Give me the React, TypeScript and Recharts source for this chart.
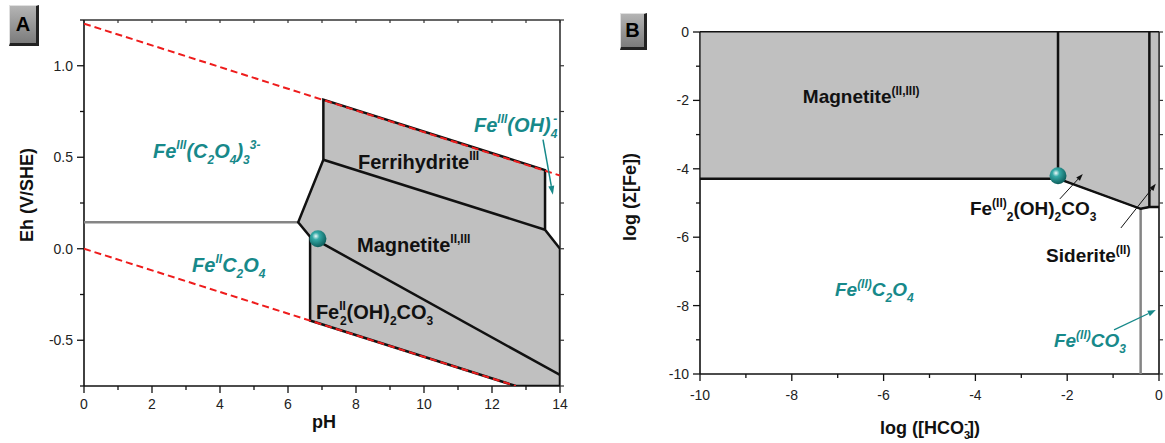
import React from "react";
import { ComposedChart, XAxis, YAxis, Scatter } from "recharts";

const FONT = '"Liberation Sans", Arial, Helvetica, sans-serif';
const TEAL = "#17898a";
const GREY_FILL = "#c0c0c0";
const INK = "#111";
const RED = "#ee1c1c";

type Seg = [string, "n" | "sup" | "sub", number?];

// ---------- panel A : Eh vs pH ----------
const phTicks = [0, 1, 2, 3, 4, 5, 6, 7, 8, 9, 10, 11, 12, 13, 14];
const phLabelled = [0, 2, 4, 6, 8, 10, 12, 14];
const ehTicks = [-0.75, -0.5, -0.25, 0, 0.25, 0.5, 0.75, 1, 1.25];
const ehLabelled = [-0.5, 0, 0.5, 1];

const waterUpper = [{ x: 0, y: 1.23 }, { x: 14, y: 0.4 }];
const waterLower = [{ x: 0, y: 0 }, { x: 12.7, y: -0.75 }];
const solidFieldA = [
  { x: 7.04, y: 0.815 },
  { x: 13.56, y: 0.43 },
  { x: 13.56, y: 0.104 },
  { x: 14, y: 0.0 },
  { x: 14, y: -0.75 },
  { x: 12.7, y: -0.75 },
  { x: 6.65, y: -0.392 },
  { x: 6.65, y: 0.066 },
  { x: 6.3, y: 0.145 },
  { x: 7.04, y: 0.486 },
];
const ferrihydriteEdge = [{ x: 7.04, y: 0.486 }, { x: 13.56, y: 0.104 }];
const carbonateEdgeA = [{ x: 6.65, y: 0.066 }, { x: 14, y: -0.69 }];
const oxalateEdge = [{ x: 0, y: 0.145 }, { x: 6.3, y: 0.145 }];
const pointA = [{ x: 6.88, y: 0.055 }];
const arrowA = [{ x: 13.5, y: 0.596 }, { x: 13.79, y: 0.295 }];

const labelsA = [
  { x: 2.03, y: 0.497, kind: "aq", segs: [["Fe", "n"], ["III", "sup"], ["(C", "n"], ["2", "sub"], ["O", "n"], ["4", "sub"], [")", "n"], ["3", "sub"], ["3-", "sup"]] },
  { x: 3.18, y: -0.126, kind: "aq", segs: [["Fe", "n"], ["II", "sup"], ["C", "n"], ["2", "sub"], ["O", "n"], ["4", "sub"]] },
  { x: 11.47, y: 0.639, kind: "aq", segs: [["Fe", "n"], ["III", "sup"], ["(OH)", "n"], ["4", "sub"], ["-", "sup", -4]] },
  { x: 8.06, y: 0.437, kind: "solid", segs: [["Ferrihydrite", "n"], ["III", "sup"]] },
  { x: 8.03, y: -0.016, kind: "solid", segs: [["Magnetite", "n"], ["II,III", "sup"]] },
  { x: 6.82, y: -0.383, kind: "solid", segs: [["Fe", "n"], ["II", "sup"], ["2", "sub", -6], ["(OH)", "n"], ["2", "sub"], ["CO", "n"], ["3", "sub"]] },
];

// ---------- panel B : log Σ[Fe] vs log [HCO3-] ----------
const hco3Ticks = [-10, -9, -8, -7, -6, -5, -4, -3, -2, -1, 0];
const hco3Labelled = [-10, -8, -6, -4, -2, 0];
const feTicks = [-10, -9, -8, -7, -6, -5, -4, -3, -2, -1, 0];
const feLabelled = [-10, -8, -6, -4, -2, 0];

const solidFieldB = [
  { x: -10, y: 0 },
  { x: 0, y: 0 },
  { x: 0, y: -5.12 },
  { x: -0.21, y: -5.12 },
  { x: -0.4, y: -5.17 },
  { x: -2.2, y: -4.29 },
  { x: -10, y: -4.29 },
];
const magnetiteEdge = [{ x: -10, y: -4.29 }, { x: -2.2, y: -4.29 }];
const hydroxyEdge = [{ x: -2.2, y: 0 }, { x: -2.2, y: -4.29 }, { x: -0.4, y: -5.17 }, { x: -0.21, y: -5.12 }, { x: 0, y: -5.12 }];
const sideriteEdge = [{ x: -0.21, y: 0 }, { x: -0.21, y: -5.12 }];
const carbonateLimit = [{ x: -0.4, y: -5.17 }, { x: -0.4, y: -10 }];
const pointB = [{ x: -2.2, y: -4.2 }];
const arrowB1 = [{ x: -2.16, y: -4.88 }, { x: -1.66, y: -4.15 }];
const arrowB2 = [{ x: -0.83, y: -5.73 }, { x: -0.07, y: -4.44 }];
const arrowB3 = [{ x: -0.98, y: -8.71 }, { x: -0.07, y: -8.13 }];

const labelsB = [
  { x: -7.76, y: -2.07, kind: "solid", segs: [["Magnetite", "n"], ["(II,III)", "sup"]] },
  { x: -4.12, y: -5.35, kind: "solid", segs: [["Fe", "n"], ["(II)", "sup"], ["2", "sub"], ["(OH)", "n"], ["2", "sub"], ["CO", "n"], ["3", "sub"]] },
  { x: -2.46, y: -6.72, kind: "solid", segs: [["Siderite", "n"], ["(II)", "sup"]] },
  { x: -7.06, y: -7.72, kind: "aq", segs: [["Fe", "n"], ["(II)", "sup"], ["C", "n"], ["2", "sub"], ["O", "n"], ["4", "sub"]] },
  { x: -2.29, y: -9.21, kind: "aq", segs: [["Fe", "n"], ["(II)", "sup"], ["CO", "n"], ["3", "sub"]] },
];

// ---------- drawing helpers ----------
const toPath = (pts: { x: number; y: number }[], close = false) =>
  pts.map((p, i) => `${i ? "L" : "M"}${p.x},${p.y}`).join(" ") + (close ? " Z" : "");

const noDot = () => <g />;

const strokeLine = (color: string, width: number, dash?: string) => (p: any) =>
  <path d={toPath(p.points)} fill="none" stroke={color} strokeWidth={width} strokeDasharray={dash} />;

const fillPoly = (fill: string) => (p: any) => <path d={toPath(p.points, true)} fill={fill} stroke="none" />;

const outlinePoly = (color: string, width: number) => (p: any) =>
  <path d={toPath(p.points, true)} fill="none" stroke={color} strokeWidth={width} />;

const arrowLine = (color: string, width: number, len: number, half: number) => (p: any) => {
  const a = p.points[0];
  const b = p.points[p.points.length - 1];
  const ang = Math.atan2(b.y - a.y, b.x - a.x);
  const c = Math.cos(ang), s = Math.sin(ang);
  const bx = b.x - len * c, by = b.y - len * s;
  return (
    <g>
      <path d={`M${a.x},${a.y} L${bx},${by}`} stroke={color} strokeWidth={width} fill="none" />
      <path d={`M${b.x},${b.y} L${bx + half * s},${by - half * c} L${bx - half * s},${by + half * c} Z`} fill={color} />
    </g>
  );
};

const ball = (id: string) => (p: any) => (
  <g>
    <defs>
      <radialGradient id={id} cx="38%" cy="35%" r="70%">
        <stop offset="0" stopColor="#eefafa" />
        <stop offset="0.3" stopColor="#35aaa7" />
        <stop offset="1" stopColor="#0a5856" />
      </radialGradient>
    </defs>
    <circle cx={p.cx} cy={p.cy} r={8.5} fill={`url(#${id})`} />
  </g>
);

function Rich({ x, y, segs, size, color, italic }: any) {
  let cur = 0;
  const small = Math.round(size * 0.62);
  return (
    <text x={x} y={y} fontFamily={FONT} fontWeight="bold" fontStyle={italic ? "italic" : "normal"} fill={color} fontSize={size}>
      {segs.map((sg: Seg, i: number) => {
        const [t, k, dx] = sg;
        const target = k === "sup" ? -size * 0.42 : k === "sub" ? size * 0.3 : 0;
        const dy = target - cur;
        cur = target;
        return (
          <tspan key={i} dy={dy} dx={dx || 0} fontSize={k === "n" ? size : small}>
            {t}
          </tspan>
        );
      })}
    </text>
  );
}

const labelShape = (size: number) => (p: any) => {
  const d = p.payload;
  const aq = d.kind === "aq";
  return <Rich x={p.cx} y={p.cy} segs={d.segs} size={size} color={aq ? TEAL : INK} italic={aq} />;
};

const near = (list: number[], v: number) => list.some((t) => Math.abs(t - v) < 1e-9);

const bottomTick = (labelled: number[], fmt: (v: number) => string, gap: number) => (p: any) => {
  const v = p.payload.value;
  const major = near(labelled, v);
  return (
    <g>
      <line x1={p.x} x2={p.x} y1={p.y} y2={p.y + (major ? 7 : 4)} stroke={INK} strokeWidth={1.3} />
      {major && (
        <text x={p.x} y={p.y + gap} textAnchor="middle" fontSize={14} fontFamily={FONT} fill="#222">
          {fmt(v)}
        </text>
      )}
    </g>
  );
};

const leftTick = (labelled: number[], fmt: (v: number) => string) => (p: any) => {
  const v = p.payload.value;
  const major = near(labelled, v);
  return (
    <g>
      <line x1={p.x - (major ? 7 : 4)} x2={p.x} y1={p.y} y2={p.y} stroke={INK} strokeWidth={1.3} />
      {major && (
        <text x={p.x - 11} y={p.y} dy="0.36em" textAnchor="end" fontSize={14} fontFamily={FONT} fill="#222">
          {fmt(v)}
        </text>
      )}
    </g>
  );
};

const rightTick = (len: number) => (p: any) => (
  <line x1={p.x} x2={p.x + len} y1={p.y} y2={p.y} stroke="#333" strokeWidth={1.2} />
);

const topTick = (len: number) => (p: any) => (
  <line x1={p.x} x2={p.x} y1={p.y} y2={p.y + len} stroke="#333" strokeWidth={1.2} />
);

const frame = { stroke: INK, strokeWidth: 1.6 };

function PanelA() {
  return (
    <ComposedChart width={600} height={443} margin={{ top: 0, right: 0, bottom: 0, left: 0 }}>
      <XAxis type="number" dataKey="x" domain={[0, 14]} ticks={phTicks} interval={0} allowDataOverflow
        tickSize={0} tickMargin={0} tickLine={false} axisLine={frame} height={57}
        tick={bottomTick(phLabelled, (v) => String(v), 23)} />
      <XAxis xAxisId="top" orientation="top" type="number" dataKey="x" domain={[0, 14]} ticks={phTicks} interval={0}
        allowDataOverflow tickSize={0} tickMargin={0} tickLine={false} axisLine={{ stroke: "#333", strokeWidth: 1.6 }}
        height={20} tick={topTick(3)} />
      <YAxis type="number" dataKey="y" domain={[-0.75, 1.25]} ticks={ehTicks} interval={0} allowDataOverflow
        tickSize={0} tickMargin={0} tickLine={false} axisLine={frame} width={84}
        tick={leftTick(ehLabelled, (v) => v.toFixed(1))} />
      <YAxis yAxisId="right" orientation="right" type="number" dataKey="y" domain={[-0.75, 1.25]} ticks={ehTicks}
        interval={0} allowDataOverflow tickSize={0} tickMargin={0} tickLine={false}
        axisLine={{ stroke: "#333", strokeWidth: 1.6 }} width={40} tick={rightTick(4)} />

      <Scatter xAxisId="top" yAxisId="right" data={[{ x: 0, y: 0 }]} shape={noDot} isAnimationActive={false} />
      <Scatter data={solidFieldA} shape={noDot} line={fillPoly(GREY_FILL)} isAnimationActive={false} />
      <Scatter data={oxalateEdge} shape={noDot} line={strokeLine("#858585", 2.5)} isAnimationActive={false} />
      <Scatter data={solidFieldA} shape={noDot} line={outlinePoly(INK, 2.5)} isAnimationActive={false} />
      <Scatter data={ferrihydriteEdge} shape={noDot} line={strokeLine(INK, 2.5)} isAnimationActive={false} />
      <Scatter data={carbonateEdgeA} shape={noDot} line={strokeLine(INK, 2.5)} isAnimationActive={false} />
      <Scatter data={waterUpper} shape={noDot} line={strokeLine(RED, 2, "7 4")} isAnimationActive={false} />
      <Scatter data={waterLower} shape={noDot} line={strokeLine(RED, 2, "7 4")} isAnimationActive={false} />
      <Scatter data={arrowA} shape={noDot} line={arrowLine(TEAL, 1.5, 9, 3)} isAnimationActive={false} />
      <Scatter data={pointA} shape={ball("ballA")} isAnimationActive={false} />
      <Scatter data={labelsA} shape={labelShape(20)} isAnimationActive={false} />
    </ComposedChart>
  );
}

function PanelB() {
  return (
    <ComposedChart width={565} height={443} margin={{ top: 0, right: 0, bottom: 0, left: 0 }}>
      <XAxis type="number" dataKey="x" domain={[-10, 0]} ticks={hco3Ticks} interval={0} allowDataOverflow
        tickSize={0} tickMargin={0} tickLine={false} axisLine={frame} height={69}
        tick={bottomTick(hco3Labelled, (v) => String(v), 26)} />
      <XAxis xAxisId="top" orientation="top" type="number" dataKey="x" domain={[-10, 0]} allowDataOverflow
        tick={false} tickLine={false} axisLine={{ stroke: INK, strokeWidth: 2 }} height={32} />
      <YAxis type="number" dataKey="y" domain={[-10, 0]} ticks={feTicks} interval={0} allowDataOverflow
        tickSize={0} tickMargin={0} tickLine={false} axisLine={frame} width={100}
        tick={leftTick(feLabelled, (v) => String(v))} />
      <YAxis yAxisId="right" orientation="right" type="number" dataKey="y" domain={[-10, 0]} ticks={feTicks}
        interval={0} allowDataOverflow tickSize={0} tickMargin={0} tickLine={false}
        axisLine={{ stroke: INK, strokeWidth: 1.6 }} width={6} tick={rightTick(4)} />

      <Scatter xAxisId="top" yAxisId="right" data={[{ x: -10, y: 0 }]} shape={noDot} isAnimationActive={false} />
      <Scatter data={solidFieldB} shape={noDot} line={fillPoly(GREY_FILL)} isAnimationActive={false} />
      <Scatter data={carbonateLimit} shape={noDot} line={strokeLine("#858585", 2.5)} isAnimationActive={false} />
      <Scatter data={magnetiteEdge} shape={noDot} line={strokeLine(INK, 2.5)} isAnimationActive={false} />
      <Scatter data={hydroxyEdge} shape={noDot} line={strokeLine(INK, 2.5)} isAnimationActive={false} />
      <Scatter data={sideriteEdge} shape={noDot} line={strokeLine(INK, 2.5)} isAnimationActive={false} />
      <Scatter data={solidFieldB} shape={noDot} line={outlinePoly(INK, 1.2)} isAnimationActive={false} />
      <Scatter data={arrowB1} shape={noDot} line={arrowLine(INK, 1, 7, 2.5)} isAnimationActive={false} />
      <Scatter data={arrowB2} shape={noDot} line={arrowLine(INK, 1, 7, 2.5)} isAnimationActive={false} />
      <Scatter data={arrowB3} shape={noDot} line={arrowLine(TEAL, 1.3, 8, 3)} isAnimationActive={false} />
      <Scatter data={pointB} shape={ball("ballB")} isAnimationActive={false} />
      <Scatter data={labelsB} shape={labelShape(19)} isAnimationActive={false} />
    </ComposedChart>
  );
}

function Badge({ left, top, w, h, text }: any) {
  return (
    <div
      style={{
        position: "absolute", left, top, width: w, height: h, boxSizing: "border-box",
        background: "linear-gradient(#b4b4b4, #7c7c7c)",
        borderStyle: "solid", borderWidth: "1px 3px 3px 1px",
        borderColor: "#e0e0e0 #222 #222 #e0e0e0",
        fontFamily: FONT, fontWeight: "bold", fontSize: 20, color: "#000",
        display: "flex", alignItems: "center", justifyContent: "center",
      }}
    >
      {text}
    </div>
  );
}

export default function App() {
  const title = { fontFamily: FONT, fontWeight: "bold", fontSize: 18, fill: INK } as any;
  return (
    <div style={{ position: "absolute", left: 0, top: 0, width: 1165, height: 443, background: "#fff", overflow: "hidden" }}>
      <div style={{ position: "absolute", left: 0, top: 0 }}>
        <PanelA />
      </div>
      <div style={{ position: "absolute", left: 600, top: 0 }}>
        <PanelB />
      </div>
      <svg width={1165} height={443} style={{ position: "absolute", left: 0, top: 0, pointerEvents: "none" }}>
        <text {...title} x={27} y={195} textAnchor="middle" dominantBaseline="central" transform="rotate(-90 27 195)">
          Eh (V/SHE)
        </text>
        <text {...title} x={324} y={428} textAnchor="middle">pH</text>
        <text {...title} x={630} y={197} textAnchor="middle" dominantBaseline="central" transform="rotate(-90 630 197)">
          log (Σ[Fe])
        </text>
        <text {...title} x={930} y={434} textAnchor="middle">
          log ([HCO<tspan dy={5} fontSize={11}>3</tspan>
          <tspan dy={-12} dx={-6} fontSize={11}>-</tspan>
          <tspan dy={7}>])</tspan>
        </text>
      </svg>
      <Badge left={9} top={5} w={30} h={41} text="A" />
      <Badge left={620} top={13} w={27} h={37} text="B" />
    </div>
  );
}
